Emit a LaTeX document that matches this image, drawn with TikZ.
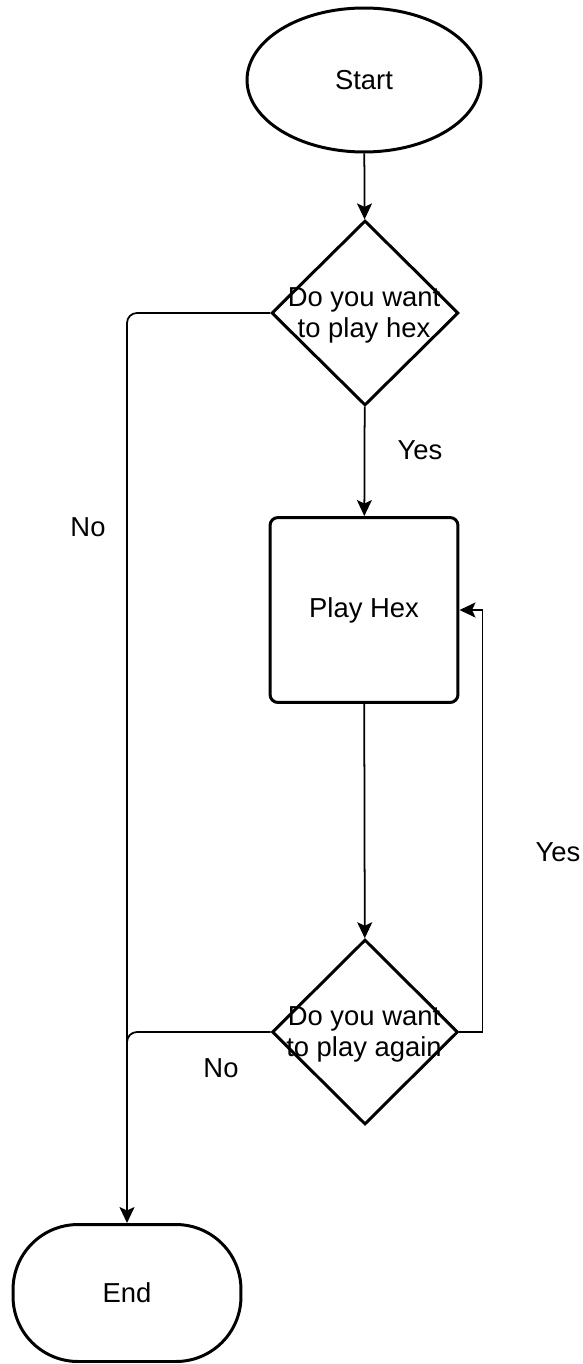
\documentclass[tikz,border=0pt]{standalone}
\usepackage{fontspec}
\setmainfont{Liberation Sans}
\usetikzlibrary{arrows.meta,shapes.geometric}
\tikzset{
  box/.style={draw,line width=1.7pt,inner sep=0pt},
  flow/.style={line width=1pt,-{Stealth[length=0.32cm,width=0.3cm,inset=0.07cm]}},
  lbl/.style={inner sep=0pt,align=center}
}
\begin{document}
\begin{tikzpicture}[x=0.02cm,y=-0.02cm,font=\fontsize{15.6}{17.6}\selectfont]
  \useasboundingbox (0,0) rectangle (582,1364);
  \node[box,ellipse,minimum width=4.68cm,minimum height=2.88cm] (start) at (364,80) {Start};
  \node[box,diamond,minimum width=3.74cm,minimum height=3.7cm] (q1) at (365,313) {};
  \node[lbl] (q1text) at (364,315) {Do you want\\to play hex};
  \node[box,rounded corners=0.16cm,minimum width=3.76cm,minimum height=3.7cm] (play) at (364,610) {Play Hex};
  \node[box,diamond,minimum width=3.72cm,minimum height=3.7cm] (q2) at (365,1032) {};
  \node[lbl] (q2text) at (364,1034) {Do you want\\to play again};
  \node[box,rounded corners=1.3cm,minimum width=4.56cm,minimum height=2.74cm] (end) at (127,1293) {End};
  \draw[flow] (start) -- (q1);
  \draw[flow] (q1) -- (play);
  \draw[flow] (play) -- (q2);
  \draw[flow] (q2.east) -- ++(23,0) |- (play.east);
  \draw[flow,rounded corners=0.2cm] (q1.west) -| (end.north);
  \draw[line width=1pt,rounded corners=0.2cm] (q2.west) -| (127,1080);
  \node[lbl] (yes1) at (420,450) {Yes};
  \node[lbl] (yes2) at (558,852) {Yes};
  \node[lbl] (no1) at (88,527) {No};
  \node[lbl] (no2) at (221,1068) {No};
\end{tikzpicture}
\end{document}
